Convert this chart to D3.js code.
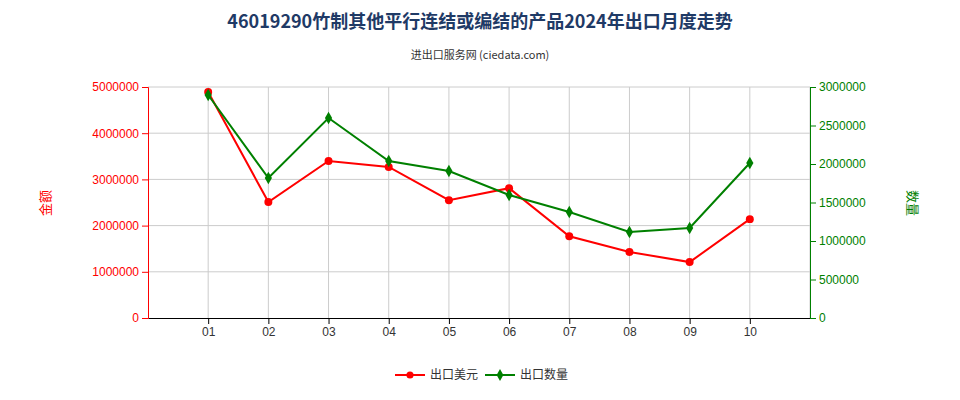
<!DOCTYPE html>
<html><head><meta charset="utf-8">
<script src="https://cdn.jsdelivr.net/npm/d3@7"></script>
<style>body{margin:0;background:#fff;font-family:"Noto Sans CJK SC","Noto Sans",sans-serif}</style>
</head><body><svg id="chart"></svg>
<script>
const months = ["01","02","03","04","05","06","07","08","09","10"];
const valueUSD = [4890000,2510000,3400000,3270000,2550000,2810000,1770000,1430000,1210000,2140000];
const quantity = [2896000,1818000,2597000,2039000,1909000,1597000,1377000,1117000,1169000,2013000];
const leftTicks = [0,1000000,2000000,3000000,4000000,5000000];
const rightTicks = [0,500000,1000000,1500000,2000000,2500000,3000000];

const width = 960, height = 400;
const margin = {top: 87, left: 148, bottom: 82, right: 150};
const svg = d3.select("#chart").attr("width", width).attr("height", height);

const x = d3.scaleLinear().domain([0, 11]).range([margin.left, width - margin.right]);
const yL = d3.scaleLinear().domain([0, 5000000]).range([height - margin.bottom, margin.top]);
const yR = d3.scaleLinear().domain([0, 3000000]).range([height - margin.bottom, margin.top]);

// grid
svg.append("g").selectAll("line").data(leftTicks.slice(1)).join("line")
  .attr("x1", margin.left).attr("x2", width - margin.right)
  .attr("y1", d => yL(d)).attr("y2", d => yL(d)).attr("stroke", "#ccc");
svg.append("g").selectAll("line").data(months).join("line")
  .attr("x1", (d, i) => x(i + 1)).attr("x2", (d, i) => x(i + 1))
  .attr("y1", margin.top).attr("y2", height - margin.bottom).attr("stroke", "#ccc");
svg.append("line").attr("x1", x(11)).attr("x2", x(11)).attr("y1", margin.top).attr("y2", height - margin.bottom).attr("stroke", "#ccc");

// axes
svg.append("g").attr("transform", `translate(0,${height - margin.bottom})`)
  .call(d3.axisBottom(x).tickValues(d3.range(1, 11)).tickFormat(d => months[d - 1]).tickSizeOuter(0))
  .call(g => g.selectAll("text").attr("font-size", 12).attr("fill", "#333"));
svg.append("g").attr("transform", `translate(${margin.left},0)`)
  .call(d3.axisLeft(yL).tickValues(leftTicks).tickFormat(d3.format("d")))
  .call(g => g.select(".domain").attr("stroke", "red"))
  .call(g => g.selectAll(".tick line").attr("stroke", "red"))
  .call(g => g.selectAll("text").attr("font-size", 12).attr("fill", "red"));
svg.append("g").attr("transform", `translate(${width - margin.right},0)`)
  .call(d3.axisRight(yR).tickValues(rightTicks).tickFormat(d3.format("d")))
  .call(g => g.select(".domain").attr("stroke", "green"))
  .call(g => g.selectAll(".tick line").attr("stroke", "green"))
  .call(g => g.selectAll("text").attr("font-size", 12).attr("fill", "green"));

// lines
const series = [
  {data: valueUSD, y: yL, color: "red"},
  {data: quantity, y: yR, color: "green"}
];
series.forEach(s => {
  svg.append("path").datum(s.data).attr("fill", "none").attr("stroke", s.color).attr("stroke-width", 2)
    .attr("d", d3.line().x((d, i) => x(i + 1)).y(d => s.y(d)));
  const sym = s.color === "red" ? d3.symbolCircle : d3.symbolDiamond;
  svg.append("g").selectAll("path").data(s.data).join("path")
    .attr("transform", (d, i) => `translate(${x(i + 1)},${s.y(d)})`)
    .attr("d", d3.symbol(sym, s.color === "red" ? 50 : 45)).attr("fill", s.color);
});

// titles
svg.append("text").attr("x", width / 2).attr("y", 28).attr("text-anchor", "middle")
  .attr("font-size", 18).attr("font-weight", "bold").attr("fill", "#1f3a66")
  .text("46019290竹制其他平行连结或编结的产品2024年出口月度走势");
svg.append("text").attr("x", width / 2).attr("y", 59).attr("text-anchor", "middle")
  .attr("font-size", 11).attr("fill", "#333").text("进出口服务网 (ciedata.com)");
svg.append("text").attr("transform", "translate(50,203) rotate(-90)").attr("text-anchor", "middle")
  .attr("font-size", 13).attr("fill", "red").text("金额");
svg.append("text").attr("transform", "translate(908,203) rotate(90)").attr("text-anchor", "middle")
  .attr("font-size", 13).attr("fill", "green").text("数量");

// legend
const legend = [{name: "出口美元", color: "red", x: 395, sym: d3.symbolCircle}, {name: "出口数量", color: "green", x: 485, sym: d3.symbolDiamond}];
legend.forEach(l => {
  svg.append("line").attr("x1", l.x).attr("x2", l.x + 30).attr("y1", 375).attr("y2", 375).attr("stroke", l.color).attr("stroke-width", 2);
  svg.append("path").attr("transform", `translate(${l.x + 15},375)`).attr("d", d3.symbol(l.sym, 40)).attr("fill", l.color);
  svg.append("text").attr("x", l.x + 35).attr("y", 379).attr("font-size", 12).attr("fill", "#333").text(l.name);
});
</script></body></html>
